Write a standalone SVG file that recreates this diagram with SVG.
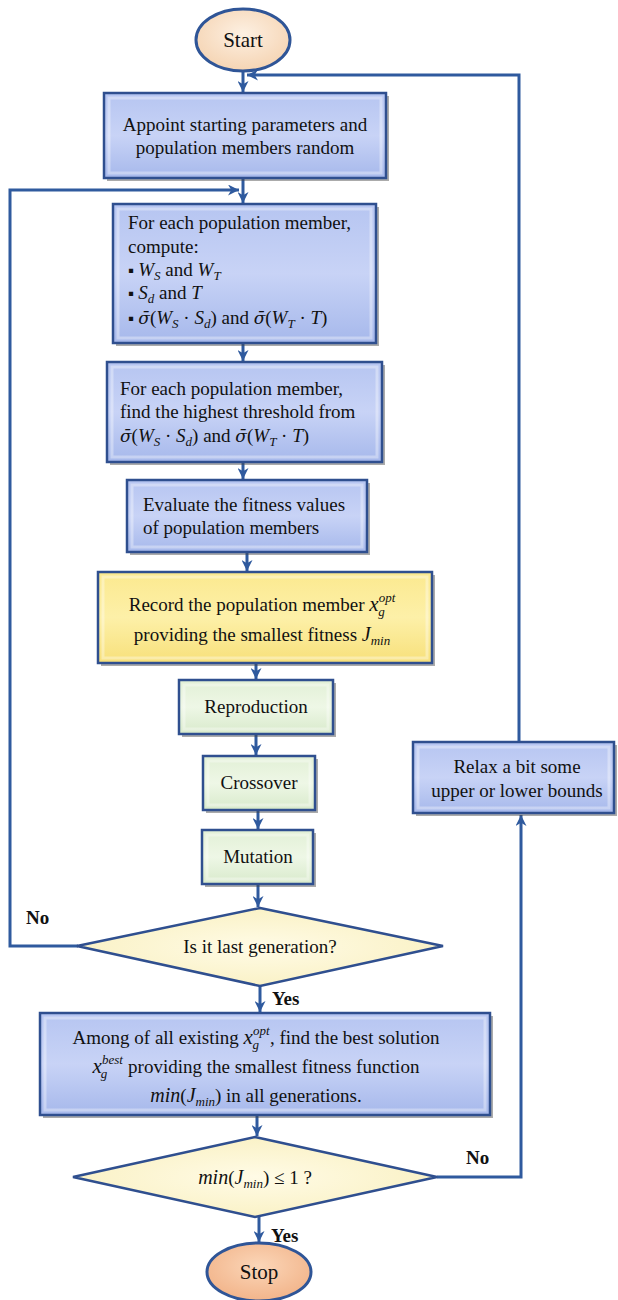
<svg xmlns="http://www.w3.org/2000/svg" width="618" height="1300" viewBox="0 0 618 1300">
<defs>
<linearGradient id="gBlue" x1="0" y1="0" x2="0" y2="1">
<stop offset="0" stop-color="#b6c5f1"/><stop offset="0.5" stop-color="#c8d3f6"/><stop offset="1" stop-color="#a6b8eb"/>
</linearGradient>
<linearGradient id="gYel" x1="0" y1="0" x2="0" y2="1">
<stop offset="0" stop-color="#fbe98f"/><stop offset="0.5" stop-color="#fdf0a8"/><stop offset="1" stop-color="#f7e07a"/>
</linearGradient>
<linearGradient id="gGrn" x1="0" y1="0" x2="0" y2="1">
<stop offset="0" stop-color="#e2f0d6"/><stop offset="0.5" stop-color="#eef7e6"/><stop offset="1" stop-color="#d8eacb"/>
</linearGradient>
<radialGradient id="gDia" cx="0.5" cy="0.5" r="0.6">
<stop offset="0" stop-color="#fffbe6"/><stop offset="1" stop-color="#f9f0c0"/>
</radialGradient>
<radialGradient id="gStart" cx="0.5" cy="0.4" r="0.6">
<stop offset="0" stop-color="#fdf0e2"/><stop offset="1" stop-color="#f5d4b3"/>
</radialGradient>
<radialGradient id="gStop" cx="0.5" cy="0.4" r="0.6">
<stop offset="0" stop-color="#fbd6b8"/><stop offset="1" stop-color="#f2b48a"/>
</radialGradient>
<marker id="arr" viewBox="0 0 10 10" refX="10" refY="5" markerWidth="11" markerHeight="11" markerUnits="userSpaceOnUse" orient="auto">
<path d="M0,0 L10,5 L0,10 L3,5 Z" fill="#2f5a9e"/>
</marker>
</defs>
<style>
.t{font-family:"Liberation Serif","Times New Roman",serif;font-size:19px;fill:#111}
.m{font-style:italic}
.o{font-family:"DejaVu Serif",serif;font-style:italic;font-size:17px}
.s{font-size:13px;font-style:italic}
.bu{font-size:17px}
.b{font-family:"Liberation Serif","Times New Roman",serif;font-size:19px;font-weight:bold;fill:#111}
.e{font-family:"Liberation Serif","Times New Roman",serif;font-size:21px;fill:#111}
.box{stroke:#2f4f8f;stroke-width:2.5}
.sh{fill:#444;opacity:0.45}
.bev{fill:none;stroke:#ffffff;stroke-opacity:0.35;stroke-width:3}
.ca{fill:none;stroke:#2f5a9e;stroke-width:3;marker-end:url(#arr)}
</style>

<g id="connectors">
<line class="ca" x1="243" y1="71" x2="243" y2="92"/>
<line class="ca" x1="243" y1="178" x2="243" y2="203"/>
<line class="ca" x1="243" y1="343" x2="243" y2="361"/>
<line class="ca" x1="243" y1="462" x2="243" y2="479"/>
<line class="ca" x1="247" y1="552" x2="247" y2="571"/>
<line class="ca" x1="256" y1="663" x2="256" y2="679"/>
<line class="ca" x1="256" y1="734" x2="256" y2="755"/>
<line class="ca" x1="258" y1="810" x2="258" y2="829"/>
<line class="ca" x1="258" y1="884" x2="258" y2="907"/>
<line class="ca" x1="260" y1="986" x2="260" y2="1012"/>
<line class="ca" x1="257" y1="1115" x2="257" y2="1136"/>
<line class="ca" x1="259" y1="1217" x2="259" y2="1242"/>
<path class="ca" d="M78,946 H10 V190 H239"/>
<path class="ca" d="M437,1177 H521 V815"/>
<path class="ca" d="M519,742 V75 H247"/>
</g>

<g id="start">
<ellipse cx="243" cy="40" rx="47" ry="31" fill="url(#gStart)" stroke="#2f5597" stroke-width="3"/>
<text class="e" x="243" y="47" text-anchor="middle">Start</text>
</g>

<g id="box1">
<rect class="sh" x="107" y="96" width="282" height="85"/>
<rect class="box" x="104" y="93" width="282" height="85" fill="url(#gBlue)"/>
<rect class="bev" x="109" y="98" width="272" height="75"/>
<text class="t" x="245" y="131" text-anchor="middle">Appoint starting parameters and</text>
<text class="t" x="245" y="154" text-anchor="middle">population members random</text>
</g>

<g id="box2">
<rect class="sh" x="116" y="207" width="263" height="139"/>
<rect class="box" x="113" y="204" width="263" height="139" fill="url(#gBlue)"/>
<rect class="bev" x="118" y="209" width="253" height="129"/>
<text class="t" x="128" y="229">For each population member,</text>
<text class="t" x="128" y="253">compute:</text>
<text class="t" x="128" y="276"><tspan class="bu">▪ </tspan><tspan class="m">W</tspan><tspan class="s" dy="4">S</tspan><tspan dy="-4"> and </tspan><tspan class="m">W</tspan><tspan class="s" dy="4">T</tspan></text>
<text class="t" x="128" y="299"><tspan class="bu">▪ </tspan><tspan class="m">S</tspan><tspan class="s" dy="4">d</tspan><tspan dy="-4"> and </tspan><tspan class="m">T</tspan></text>
<text class="t" x="128" y="324"><tspan class="bu">▪ </tspan><tspan class="o">σ̄</tspan>(<tspan class="m">W</tspan><tspan class="s" dy="4">S</tspan><tspan dy="-4"> · </tspan><tspan class="m">S</tspan><tspan class="s" dy="4">d</tspan><tspan dy="-4">) and </tspan><tspan class="o">σ̄</tspan>(<tspan class="m">W</tspan><tspan class="s" dy="4">T</tspan><tspan dy="-4"> · </tspan><tspan class="m">T</tspan>)</text>
</g>

<g id="box3">
<rect class="sh" x="110" y="365" width="275" height="100"/>
<rect class="box" x="107" y="362" width="275" height="100" fill="url(#gBlue)"/>
<rect class="bev" x="112" y="367" width="265" height="90"/>
<text class="t" x="120" y="395">For each population member,</text>
<text class="t" x="120" y="418">find the highest threshold from</text>
<text class="t" x="120" y="442"><tspan class="o">σ̄</tspan>(<tspan class="m">W</tspan><tspan class="s" dy="4">S</tspan><tspan dy="-4"> · </tspan><tspan class="m">S</tspan><tspan class="s" dy="4">d</tspan><tspan dy="-4">) and </tspan><tspan class="o">σ̄</tspan>(<tspan class="m">W</tspan><tspan class="s" dy="4">T</tspan><tspan dy="-4"> · </tspan><tspan class="m">T</tspan>)</text>
</g>

<g id="box4">
<rect class="sh" x="130" y="483" width="240" height="72"/>
<rect class="box" x="127" y="480" width="240" height="72" fill="url(#gBlue)"/>
<rect class="bev" x="132" y="485" width="230" height="62"/>
<text class="t" x="143" y="511">Evaluate the fitness values</text>
<text class="t" x="143" y="534">of population members</text>
</g>

<g id="box5">
<rect class="sh" x="101" y="575" width="334" height="91"/>
<rect class="box" x="98" y="572" width="334" height="91" fill="url(#gYel)"/>
<rect class="bev" x="103" y="577" width="324" height="81"/>
<text class="t" x="262" y="611" text-anchor="middle">Record the population member <tspan class="m" font-size="21">x</tspan><tspan class="s" font-size="12" dy="-9">opt</tspan><tspan class="s" font-size="12" dx="-17" dy="14">g</tspan><tspan class="s" font-size="12" dx="11" dy="-5"> </tspan></text>
<text class="t" x="262" y="641" text-anchor="middle">providing the smallest fitness <tspan class="m" font-size="20">J</tspan><tspan class="s" font-size="14" dy="4">min</tspan></text>
</g>

<g id="reproduction">
<rect class="sh" x="182" y="683" width="154" height="54"/>
<rect class="box" x="179" y="680" width="154" height="54" fill="url(#gGrn)"/>
<rect class="bev" x="184" y="685" width="144" height="44"/>
<text class="t" x="256" y="713" text-anchor="middle">Reproduction</text>
</g>

<g id="crossover">
<rect class="sh" x="206" y="759" width="112" height="54"/>
<rect class="box" x="203" y="756" width="112" height="54" fill="url(#gGrn)"/>
<rect class="bev" x="208" y="761" width="102" height="44"/>
<text class="t" x="259" y="789" text-anchor="middle">Crossover</text>
</g>

<g id="mutation">
<rect class="sh" x="205" y="833" width="111" height="54"/>
<rect class="box" x="202" y="830" width="111" height="54" fill="url(#gGrn)"/>
<rect class="bev" x="207" y="835" width="101" height="44"/>
<text class="t" x="258" y="863" text-anchor="middle">Mutation</text>
</g>

<g id="decision1">
<polygon points="260,908 443,946 260,986 77,946" fill="url(#gDia)" stroke="#2f4f8f" stroke-width="2.5"/>
<text class="t" x="260" y="953" text-anchor="middle">Is it last generation?</text>
<text class="b" x="26" y="924">No</text>
<text class="b" x="272" y="1005">Yes</text>
</g>

<g id="box6">
<rect class="sh" x="43" y="1016" width="450" height="102"/>
<rect class="box" x="40" y="1013" width="450" height="102" fill="url(#gBlue)"/>
<rect class="bev" x="45" y="1018" width="440" height="92"/>
<text class="t" x="256" y="1044" text-anchor="middle">Among of all existing <tspan class="m" font-size="21">x</tspan><tspan class="s" font-size="12" dy="-9">opt</tspan><tspan class="s" font-size="12" dx="-17" dy="14">g</tspan><tspan dx="11" dy="-5">, find the best solution</tspan></text>
<text class="t" x="256" y="1073" text-anchor="middle"><tspan class="m" font-size="21">x</tspan><tspan class="s" font-size="12" dy="-9">best</tspan><tspan class="s" font-size="12" dx="-22" dy="14">g</tspan><tspan dx="16" dy="-5"> providing the smallest fitness function</tspan></text>
<text class="t" x="256" y="1102" text-anchor="middle"><tspan class="m" font-size="20">min</tspan>(<tspan class="m" font-size="20">J</tspan><tspan class="s" font-size="14" dy="4">min</tspan><tspan dy="-4">) in all generations.</tspan></text>
</g>

<g id="decision2">
<polygon points="255,1137 437,1177 255,1217 73,1177" fill="url(#gDia)" stroke="#2f4f8f" stroke-width="2.5"/>
<text class="t" x="255" y="1184" text-anchor="middle"><tspan class="m" font-size="20">min</tspan>(<tspan class="m" font-size="20">J</tspan><tspan class="s" font-size="14" dy="4">min</tspan><tspan dy="-4">) ≤ 1 ?</tspan></text>
<text class="b" x="466" y="1164">No</text>
<text class="b" x="271" y="1242">Yes</text>
</g>

<g id="relax">
<rect class="sh" x="416" y="745" width="201" height="71"/>
<rect class="box" x="413" y="742" width="201" height="71" fill="url(#gBlue)"/>
<rect class="bev" x="418" y="747" width="191" height="61"/>
<text class="t" x="517" y="773" text-anchor="middle">Relax a bit some</text>
<text class="t" x="517" y="797" text-anchor="middle">upper or lower bounds</text>
</g>

<g id="stop">
<ellipse cx="259" cy="1272" rx="52" ry="29" fill="url(#gStop)" stroke="#2f5597" stroke-width="3"/>
<text class="e" x="259" y="1279" text-anchor="middle">Stop</text>
</g>
</svg>
